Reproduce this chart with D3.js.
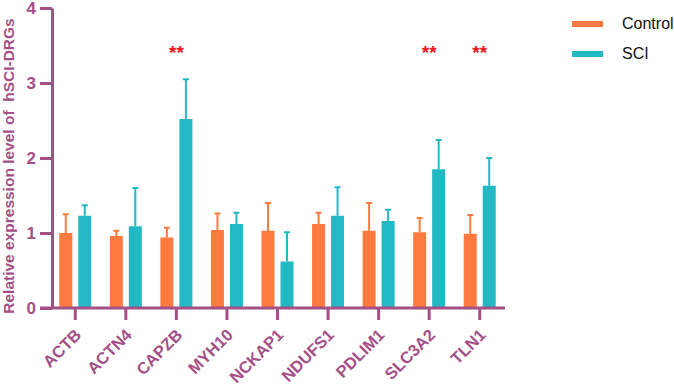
<!DOCTYPE html>
<html>
<head>
<meta charset="utf-8">
<script src="https://cdn.jsdelivr.net/npm/d3@7.9.0/dist/d3.min.js"></script>
<style>
  body { margin: 0; background: #fff; }
  svg { font-family: Arial, "Liberation Sans", sans-serif; }
</style>
</head>
<body>
<div id="chart"></div>
<script>
const genes = ["ACTB", "ACTN4", "CAPZB", "MYH10", "NCKAP1", "NDUFS1", "PDLIM1", "SLC3A2", "TLN1"];
const controlMean = [1.00, 0.96, 0.94, 1.04, 1.03, 1.12, 1.03, 1.01, 0.99];
const controlErr  = [0.25, 0.07, 0.13, 0.22, 0.37, 0.15, 0.37, 0.19, 0.25];
const sciMean     = [1.23, 1.09, 2.52, 1.12, 0.62, 1.23, 1.16, 1.85, 1.63];
const sciErr      = [0.14, 0.51, 0.53, 0.15, 0.39, 0.38, 0.15, 0.39, 0.37];
const significant = ["CAPZB", "SLC3A2", "TLN1"];
const yTicks = [0, 1, 2, 3, 4];

const axisColor = "#A44F86";
const colors = { Control: "#FF7A3F", SCI: "#22B8C4" };

const width = 674, height = 387;
const svg = d3.select("#chart").append("svg")
    .attr("width", width)
    .attr("height", height);

const x = d3.scaleBand()
    .domain(genes)
    .range([50, 505]);

const y = d3.scaleLinear()
    .domain([0, 4])
    .range([308, 8]);

const barW = 13, gap = 6;

// bars + error bars per series
const series = [
    { name: "Control", mean: controlMean, err: controlErr, off: -gap / 2 - barW },
    { name: "SCI", mean: sciMean, err: sciErr, off: gap / 2 }
];

series.forEach(s => {
    const data = genes.map((g, i) => ({ gene: g, v: s.mean[i], e: s.err[i] }));
    const g = svg.append("g");
    const cx = d => x(d.gene) + x.bandwidth() / 2 + s.off + barW / 2;

    g.selectAll("line.err")
        .data(data)
        .enter().append("line")
        .attr("x1", cx).attr("x2", cx)
        .attr("y1", d => y(d.v)).attr("y2", d => y(d.v + d.e))
        .attr("stroke", colors[s.name])
        .attr("stroke-width", 2);

    g.selectAll("line.cap")
        .data(data)
        .enter().append("line")
        .attr("x1", d => cx(d) - 3).attr("x2", d => cx(d) + 3)
        .attr("y1", d => y(d.v + d.e)).attr("y2", d => y(d.v + d.e))
        .attr("stroke", colors[s.name])
        .attr("stroke-width", 2);

    g.selectAll("rect")
        .data(data)
        .enter().append("rect")
        .attr("x", d => x(d.gene) + x.bandwidth() / 2 + s.off)
        .attr("y", d => y(d.v))
        .attr("width", barW)
        .attr("height", d => y(0) - y(d.v))
        .attr("fill", colors[s.name]);
});

// significance stars
svg.selectAll("text.sig")
    .data(significant)
    .enter().append("text")
    .attr("x", d => x(d) + x.bandwidth() / 2)
    .attr("y", y(3.41) + 7)
    .attr("text-anchor", "middle")
    .attr("fill", "#F0141E")
    .attr("font-size", "19px")
    .attr("font-weight", "bold")
    .text("**");

// axes
const yAxis = svg.append("g")
    .attr("transform", "translate(52,0)")
    .call(d3.axisLeft(y).tickValues(yTicks).tickFormat(d3.format("d"))
        .tickSize(12).tickSizeOuter(0).tickPadding(4));

const xAxis = svg.append("g")
    .attr("transform", `translate(0,${y(0)})`)
    .call(d3.axisBottom(x).tickSize(12).tickSizeOuter(0));

[yAxis, xAxis].forEach(ax => {
    ax.select(".domain").attr("stroke", axisColor).attr("stroke-width", 3);
    ax.selectAll(".tick line").attr("stroke", axisColor).attr("stroke-width", 3);
    ax.selectAll("text").attr("fill", axisColor).attr("font-weight", "bold")
        .attr("font-family", "Arial, 'Liberation Sans', sans-serif");
});
xAxis.select(".domain").attr("d", "M40,0H505");
yAxis.selectAll("text").attr("font-size", "17px");

xAxis.selectAll(".tick text")
    .attr("font-size", "16.5px")
    .attr("text-anchor", "end")
    .attr("dy", "0")
    .attr("y", 0)
    .attr("transform", "translate(7,28) rotate(-45)");

// y axis title
svg.append("text")
    .attr("transform", "translate(13.5,166) rotate(-90)")
    .attr("text-anchor", "middle")
    .attr("fill", axisColor)
    .attr("font-size", "15.5px")
    .attr("font-weight", "bold")
    .attr("xml:space", "preserve")
    .text("Relative expression level of  hSCI-DRGs");

// legend
const legend = svg.append("g").attr("transform", "translate(572,0)");
series.forEach((s, i) => {
    legend.append("rect")
        .attr("x", 0).attr("y", 21 + i * 30)
        .attr("width", 31).attr("height", 6)
        .attr("fill", colors[s.name]);
    legend.append("text")
        .attr("x", 50).attr("y", 29 + i * 30)
        .attr("font-size", "16px")
        .attr("fill", "#111")
        .text(s.name);
});
</script>
</body>
</html>
